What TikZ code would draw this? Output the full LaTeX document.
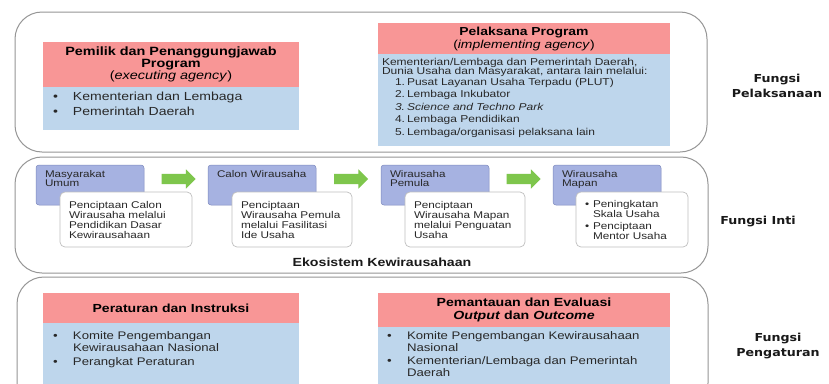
\documentclass[tikz,border=0pt]{standalone}
\usepackage{fontspec}
\setmainfont{Liberation Sans}[FakeStretch=1.2]
\newfontfamily\fungsifont{DejaVu Sans}[FakeStretch=1.15]
\usetikzlibrary{shapes.arrows, positioning, calc}

\definecolor{headpink}{RGB}{248,150,150}
\definecolor{listblue}{RGB}{190,214,236}
\definecolor{stagepurple}{RGB}{166,178,225}
\definecolor{stageedge}{RGB}{125,137,190}
\definecolor{flowgreen}{RGB}{126,198,76}
\definecolor{paneledge}{RGB}{150,150,150}
\definecolor{textgray}{RGB}{40,40,40}

\newcommand{\fs}[2]{\fontsize{#1}{#2}\selectfont}
\newcommand{\bul}{\makebox[20pt][l]{\textbullet}}
\newcommand{\numitem}[1]{\hspace*{13pt}\makebox[12pt][l]{#1}}

\begin{document}
\begin{tikzpicture}[x=1pt, y=-1pt, inner sep=0pt, outer sep=0pt,
    panel/.style={draw=paneledge, line width=1pt, fill=white, rounded corners=27pt},
    headbox/.style={fill=headpink, anchor=north west, align=center, text=black},
    listbox/.style={fill=listblue, anchor=north west},
    listtext/.style={align=left, text=textgray},
    stagebox/.style={draw=stageedge, line width=0.5pt, fill=stagepurple, rounded corners=3pt,
        minimum width=108pt, minimum height=40pt, anchor=north west},
    stagetext/.style={align=left, text=textgray, font=\fs{9.7}{9.5}},
    notebox/.style={draw=black!25, line width=0.7pt, fill=white, rounded corners=5pt,
        minimum height=55pt, inner xsep=9pt, align=left, text=textgray, font=\fs{9.8}{10}},
    flowarrow/.style={single arrow, fill=flowgreen, inner xsep=0pt, inner ysep=5pt,
        minimum height=34pt, minimum width=19pt,
        single arrow head extend=4.5pt, single arrow head indent=0pt},
    fungsi/.style={font=\fungsifont\bfseries\fs{11}{15}, align=center, text=black!90}]

\useasboundingbox (0,0) rectangle (829,383);
\clip (0,0) rectangle (829,383);
\fill[white] (0,0) rectangle (829,383);

% three panels
\draw[panel] (15,12) rectangle (707,152);
\draw[panel] (15,157) rectangle (708,273);
\draw[panel] (17,277) rectangle (708,410);

% executing agency
\node[headbox, minimum width=256pt, minimum height=45pt, font=\bfseries\fs{12}{12}] (ownerhead) at (43,42)
    {Pemilik dan Penanggungjawab\\Program\\{\mdseries(\textit{executing agency})}};
\node[listbox, minimum width=256pt, minimum height=43pt, below=0pt of ownerhead] (ownerlist) {};
\node[listtext, font=\fs{11.7}{15}, below right=5pt and 10pt of ownerlist.north west] (ownertext)
    {\bul Kementerian dan Lembaga\\\bul Pemerintah Daerah};

% implementing agency
\node[headbox, minimum width=292pt, minimum height=31pt, font=\bfseries\fs{11.6}{13}] (implhead) at (378,23)
    {Pelaksana Program\\{\mdseries(\textit{implementing agency})}};
\node[listbox, minimum width=292pt, minimum height=92pt, below=0pt of implhead] (impllist) {};
\node[listtext, font=\fs{10}{9.5}, below right=4pt and 4pt of impllist.north west] (impltext)
    {Kementerian/Lembaga dan Pemerintah Daerah,\\
     Dunia Usaha dan Masyarakat, antara lain melalui:\\[1pt]
     \numitem{1.}Pusat Layanan Usaha Terpadu (PLUT)\\[3pt]
     \numitem{2.}Lembaga Inkubator\\[3pt]
     \textit{\numitem{3.}Science and Techno Park}\\[3pt]
     \numitem{4.}Lembaga Pendidikan\\[3pt]
     \numitem{5.}Lembaga/organisasi pelaksana lain};

\node[fungsi] (fpelaksanaan) at (777,86) {Fungsi\\Pelaksanaan};

% ecosystem stages
\node[stagebox] (umum) at (36,165) {};
\node[stagebox, right=64pt of umum] (calon) {};
\node[stagebox, right=65pt of calon] (pemula) {};
\node[stagebox, right=64pt of pemula] (mapan) {};

\node[stagetext, below right=5pt and 9pt of umum.north west] (umumtext) {Masyarakat\\Umum};
\node[stagetext, below right=5pt and 9pt of calon.north west] (calontext) {Calon Wirausaha};
\node[stagetext, below right=5pt and 9pt of pemula.north west] (pemulatext) {Wirausaha\\Pemula};
\node[stagetext, below right=5pt and 9pt of mapan.north west] (mapantext) {Wirausaha\\Mapan};

\node[notebox, text width=114pt, below right=27pt and 24pt of umum.north west] (umumnote)
    {Penciptaan Calon\\Wirausaha melalui\\Pendidikan Dasar\\Kewirausahaan};
\node[notebox, text width=102pt, below right=27pt and 24pt of calon.north west] (calonnote)
    {Penciptaan\\Wirausaha Pemula\\melalui Fasilitasi\\Ide Usaha};
\node[notebox, text width=102pt, below right=27pt and 24pt of pemula.north west] (pemulanote)
    {Penciptaan\\Wirausaha Mapan\\melalui Penguatan\\Usaha};
\node[notebox, text width=94pt, below right=27pt and 23pt of mapan.north west] (mapannote)
    {\makebox[8pt][l]{\textbullet}Peningkatan\\\hspace*{8pt}Skala Usaha\\[2pt]
     \makebox[8pt][l]{\textbullet}Penciptaan\\\hspace*{8pt}Mentor Usaha};

\node[flowarrow] (flowa) at ($(umum.east)!0.5!(calon.west)+(0,-6)$) {};
\node[flowarrow] (flowb) at ($(calon.east)!0.5!(pemula.west)+(0,-6)$) {};
\node[flowarrow] (flowc) at ($(pemula.east)!0.5!(mapan.west)+(0,-6)$) {};

\node[font=\bfseries\fs{11.8}{12}, text=black!90] (ekosistem) at (382,262) {Ekosistem Kewirausahaan};
\node[fungsi] (finti) at (758,222) {Fungsi Inti};

% regulation
\node[headbox, minimum width=256pt, minimum height=30pt, font=\bfseries\fs{11.7}{12}] (rulehead) at (43,293)
    {Peraturan dan Instruksi};
\node[listbox, minimum width=256pt, minimum height=80pt, below=0pt of rulehead] (rulelist) {};
\node[listtext, font=\fs{11}{12}, below right=9pt and 10pt of rulelist.north west] (ruletext)
    {\bul Komite Pengembangan\\\hspace*{20pt}Kewirausahaan Nasional\\[2pt]\bul Perangkat Peraturan};

% monitoring
\node[headbox, minimum width=292pt, minimum height=34pt, font=\bfseries\fs{11.8}{13.5}] (evalhead) at (378,293)
    {Pemantauan dan Evaluasi\\\textit{Output} dan \textit{Outcome}};
\node[listbox, minimum width=292pt, minimum height=80pt, below=0pt of evalhead] (evallist) {};
\node[listtext, font=\fs{11}{12}, below right=5pt and 9pt of evallist.north west] (evaltext)
    {\bul Komite Pengembangan Kewirausahaan\\\hspace*{20pt}Nasional\\[1pt]
     \bul Kementerian/Lembaga dan Pemerintah\\\hspace*{20pt}Daerah};

\node[fungsi] (fpengaturan) at (778,346) {Fungsi\\Pengaturan};
\end{tikzpicture}
\end{document}
